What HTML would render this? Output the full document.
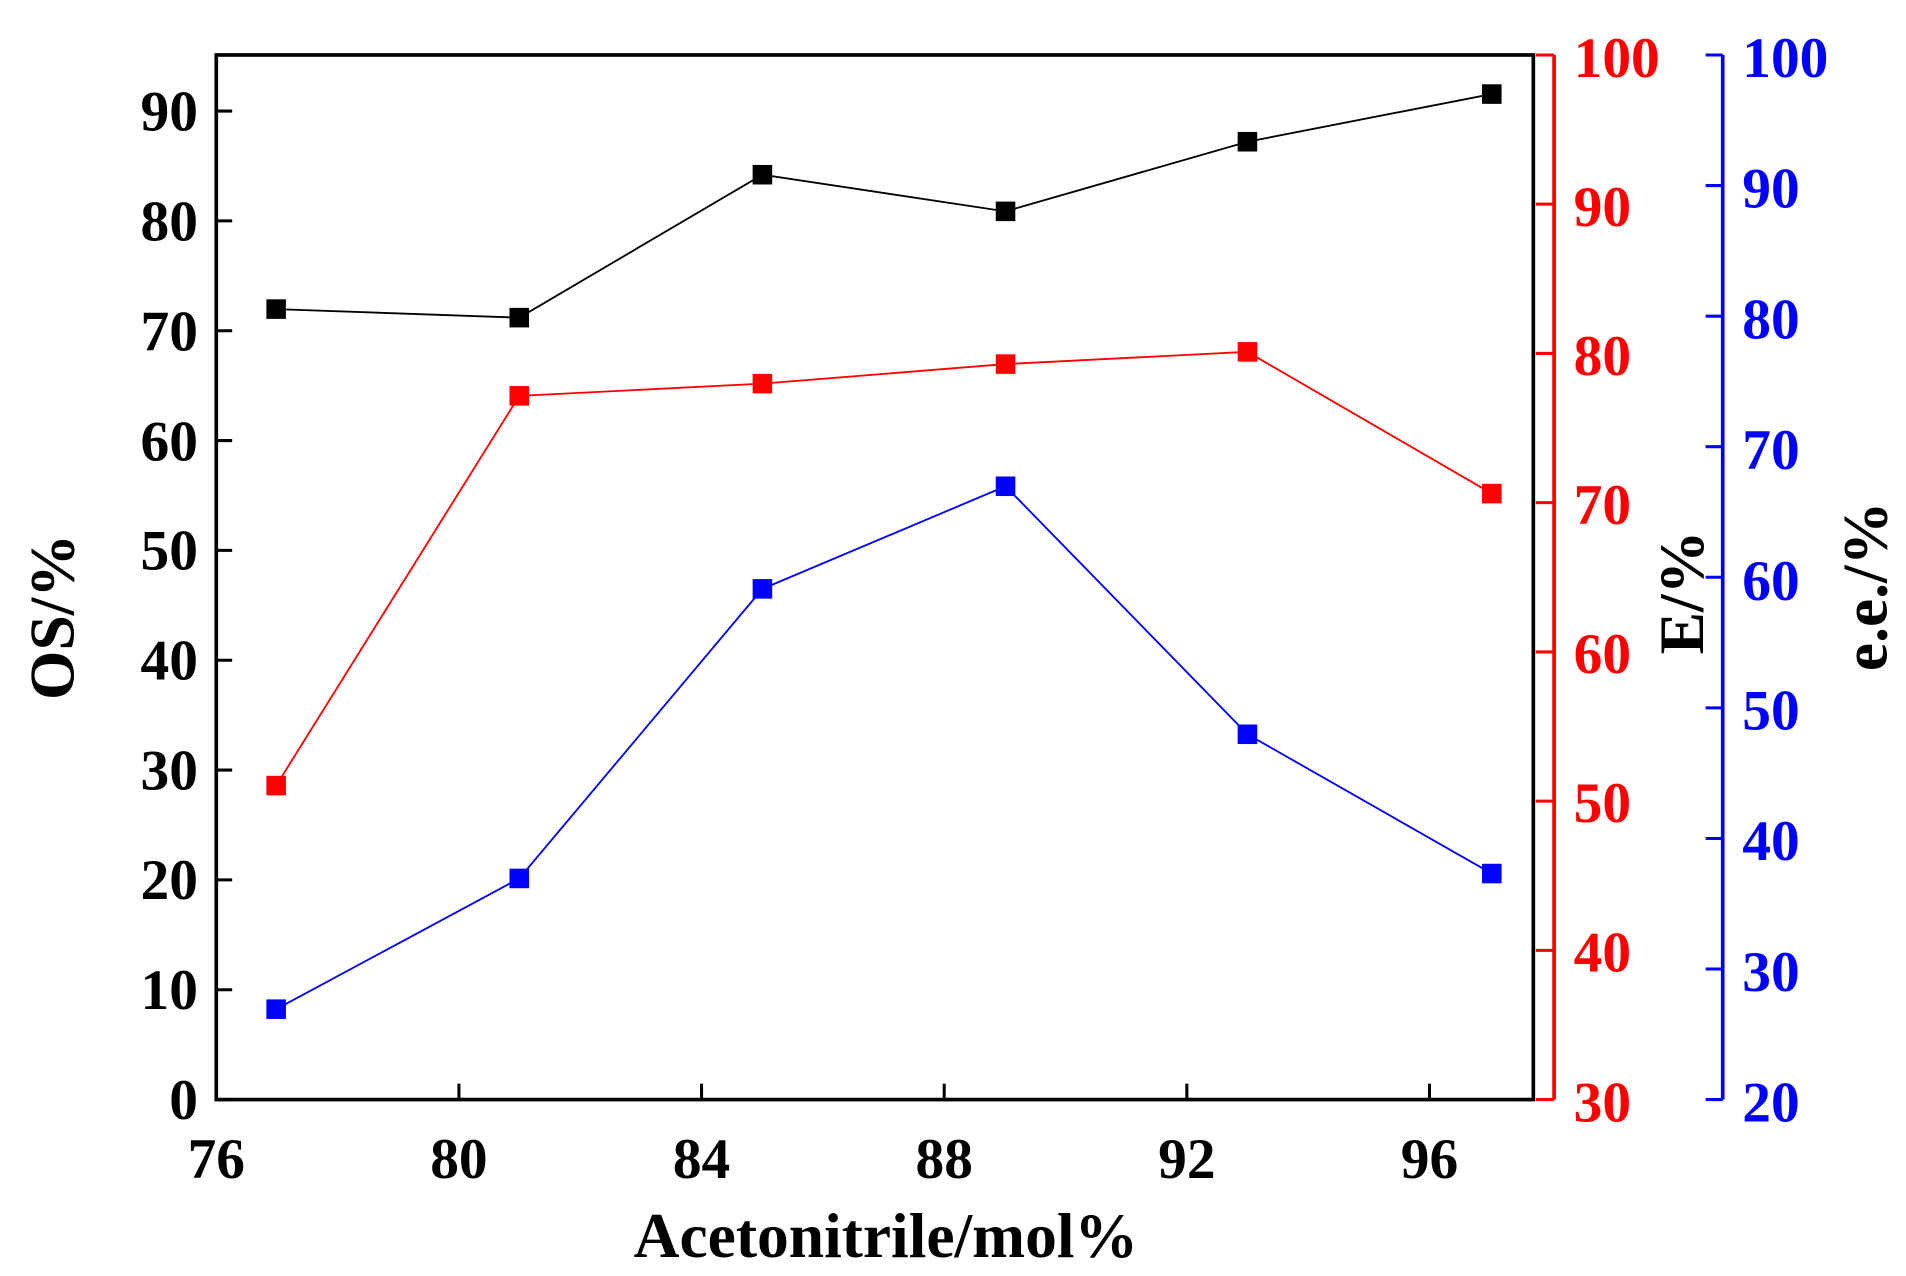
<!DOCTYPE html>
<html><head><meta charset="utf-8"><style>html,body{margin:0;padding:0;background:#fff}svg{display:block}</style></head>
<body>
<svg width="1906" height="1276" viewBox="0 0 1560 1044.4" xmlns="http://www.w3.org/2000/svg" font-family="'Liberation Serif',serif" font-weight="bold">
<rect width="1560" height="1044.4" fill="#fff"/>
<rect x="177" y="45" width="1078" height="855" fill="none" stroke="#000" stroke-width="3"/>
<g stroke="#000" stroke-width="2.5">
<line x1="177" y1="900" x2="190" y2="900"/><line x1="177" y1="810.1" x2="190" y2="810.1"/><line x1="177" y1="720.2" x2="190" y2="720.2"/><line x1="177" y1="630.3" x2="190" y2="630.3"/><line x1="177" y1="540.4" x2="190" y2="540.4"/><line x1="177" y1="450.5" x2="190" y2="450.5"/><line x1="177" y1="360.6" x2="190" y2="360.6"/><line x1="177" y1="270.7" x2="190" y2="270.7"/><line x1="177" y1="180.8" x2="190" y2="180.8"/><line x1="177" y1="90.9" x2="190" y2="90.9"/>
<line x1="375.6" y1="900" x2="375.6" y2="887"/><line x1="574.2" y1="900" x2="574.2" y2="887"/><line x1="772.8" y1="900" x2="772.8" y2="887"/><line x1="971.4" y1="900" x2="971.4" y2="887"/><line x1="1170" y1="900" x2="1170" y2="887"/>
</g>
<g font-size="47" text-anchor="end" fill="#000">
<text x="162" y="916">0</text><text x="162" y="826">10</text><text x="162" y="736">20</text><text x="162" y="646">30</text><text x="162" y="556">40</text><text x="162" y="466">50</text><text x="162" y="377">60</text><text x="162" y="287">70</text><text x="162" y="197">80</text><text x="162" y="107">90</text>
</g>
<g font-size="47" text-anchor="middle" fill="#000">
<text x="177" y="964">76</text><text x="375.6" y="964">80</text><text x="574.2" y="964">84</text><text x="772.8" y="964">88</text><text x="971.4" y="964">92</text><text x="1170" y="964">96</text>
</g>
<text x="725" y="1029" font-size="52" text-anchor="middle">Acetonitrile/mol%</text>
<text transform="translate(60,505) rotate(-90)" font-size="52" text-anchor="middle">OS/%</text>
<line x1="1272" y1="45" x2="1272" y2="900" stroke="#f00" stroke-width="3"/>
<g stroke="#f00" stroke-width="2.5">
<line x1="1257" y1="45" x2="1272" y2="45"/><line x1="1257" y1="167.1" x2="1272" y2="167.1"/><line x1="1257" y1="289.3" x2="1272" y2="289.3"/><line x1="1257" y1="411.4" x2="1272" y2="411.4"/><line x1="1257" y1="533.6" x2="1272" y2="533.6"/><line x1="1257" y1="655.7" x2="1272" y2="655.7"/><line x1="1257" y1="777.9" x2="1272" y2="777.9"/><line x1="1257" y1="900" x2="1272" y2="900"/>
</g>
<g font-size="47" fill="#f00">
<text x="1288" y="63">100</text><text x="1288" y="185">90</text><text x="1288" y="307">80</text><text x="1288" y="429">70</text><text x="1288" y="551">60</text><text x="1288" y="673">50</text><text x="1288" y="795">40</text><text x="1288" y="918">30</text>
</g>
<text transform="translate(1394,485) rotate(-90)" font-size="52" text-anchor="middle">E/%</text>
<line x1="1410" y1="45" x2="1410" y2="900" stroke="#00f" stroke-width="3"/>
<g stroke="#00f" stroke-width="2.5">
<line x1="1396" y1="45" x2="1410" y2="45"/><line x1="1396" y1="151.9" x2="1410" y2="151.9"/><line x1="1396" y1="258.8" x2="1410" y2="258.8"/><line x1="1396" y1="365.6" x2="1410" y2="365.6"/><line x1="1396" y1="472.5" x2="1410" y2="472.5"/><line x1="1396" y1="579.4" x2="1410" y2="579.4"/><line x1="1396" y1="686.3" x2="1410" y2="686.3"/><line x1="1396" y1="793.1" x2="1410" y2="793.1"/><line x1="1396" y1="900" x2="1410" y2="900"/>
</g>
<g font-size="47" fill="#00f">
<text x="1426" y="63">100</text><text x="1426" y="170">90</text><text x="1426" y="277">80</text><text x="1426" y="384">70</text><text x="1426" y="491">60</text><text x="1426" y="597">50</text><text x="1426" y="704">40</text><text x="1426" y="811">30</text><text x="1426" y="918">20</text>
</g>
<text transform="translate(1544,480) rotate(-90)" font-size="52" text-anchor="middle">e.e./%</text>
<polyline fill="none" stroke="#000" stroke-width="1.5" points="226,253 425,260 624,143 823,173 1021,116 1221,77"/>
<polyline fill="none" stroke="#f00" stroke-width="1.5" points="226,643 425,324 624,314 823,298 1021,288 1221,404"/>
<polyline fill="none" stroke="#00f" stroke-width="1.5" points="226,826 425,719 624,482 823,398 1021,601 1221,715"/>
<g fill="#000"><rect x="218" y="245" width="16" height="16"/><rect x="417" y="252" width="16" height="16"/><rect x="616" y="135" width="16" height="16"/><rect x="815" y="165" width="16" height="16"/><rect x="1013" y="108" width="16" height="16"/><rect x="1213" y="69" width="16" height="16"/></g>
<g fill="#f00"><rect x="218" y="635" width="16" height="16"/><rect x="417" y="316" width="16" height="16"/><rect x="616" y="306" width="16" height="16"/><rect x="815" y="290" width="16" height="16"/><rect x="1013" y="280" width="16" height="16"/><rect x="1213" y="396" width="16" height="16"/></g>
<g fill="#00f"><rect x="218" y="818" width="16" height="16"/><rect x="417" y="711" width="16" height="16"/><rect x="616" y="474" width="16" height="16"/><rect x="815" y="390" width="16" height="16"/><rect x="1013" y="593" width="16" height="16"/><rect x="1213" y="707" width="16" height="16"/></g>
</svg>
</body></html>
